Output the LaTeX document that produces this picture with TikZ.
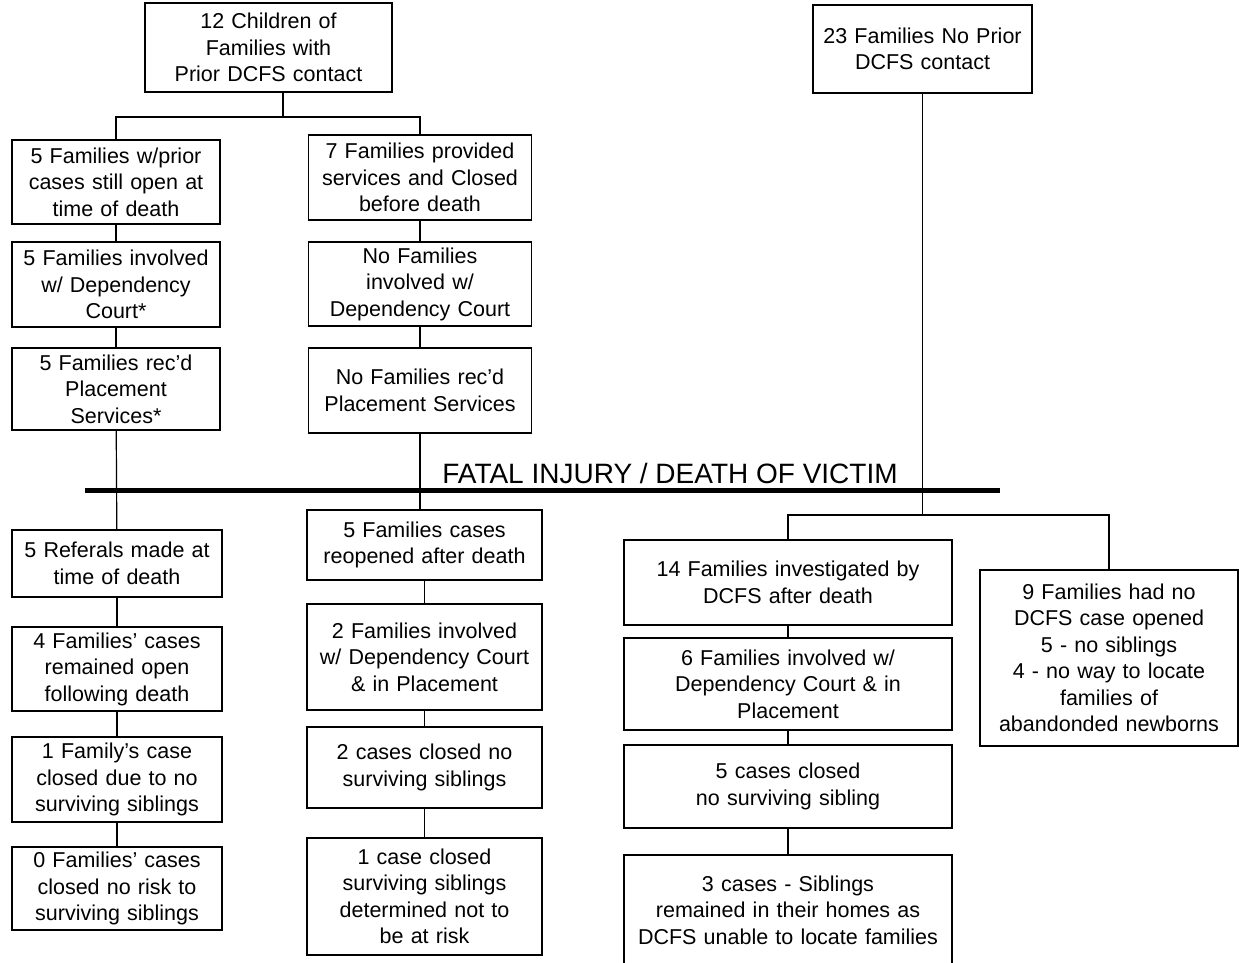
\documentclass[tikz,border=0pt]{standalone}
\usepackage{fontspec}
\setmainfont{Liberation Sans}
\begin{document}
\begin{tikzpicture}[x=1pt, y=-1pt,
	box/.style={draw, line width=1.1pt, align=center, inner sep=2pt, font=\fontsize{21.5}{26.5}\selectfont},
	link/.style={line width=1.2pt}]
	\useasboundingbox (0,0) rectangle (1239,962);

	% before death
	\node [box, text width=238pt, minimum width=247, minimum height=89] at (268.5, 47.5) (kids) {12 Children of\\Families with\\Prior DCFS contact};
	\node [box, text width=210pt, minimum width=219, minimum height=88] at (922.5, 49) (noprior) {23 Families No Prior\\DCFS contact};

	\node [box, text width=200pt, minimum width=208, minimum height=84] at (116, 182) (open1) {5 Families w/prior\\cases still open at\\time of death};
	\node [box, text width=200pt, minimum width=208, minimum height=85] at (116, 284.5) (open2) {5 Families involved\\w/ Dependency\\Court*};
	\node [box, text width=200pt, minimum width=208, minimum height=82] at (116, 389) (open3) {5 Families rec'd\\Placement\\Services*};

	\node [box, text width=215pt, minimum width=223, minimum height=85] at (420, 177.5) (closed1) {7 Families provided\\services and Closed\\before death};
	\node [box, text width=215pt, minimum width=223, minimum height=84] at (420, 284) (closed2) {No Families\\involved w/\\Dependency Court};
	\node [box, text width=215pt, minimum width=223, minimum height=85] at (420, 390.5) (closed3) {No Families rec'd\\Placement Services};

	% death line
	\coordinate (fatalL) at (85, 490);
	\coordinate (fatalR) at (1000, 490);
	\draw [line width=5pt] (fatalL) -- (fatalR);
	\node [anchor=base, inner sep=0pt, font=\fontsize{28}{32}\selectfont] at (670, 483) (fatal) {FATAL INJURY / DEATH OF VICTIM};

	% after death
	\node [box, text width=202pt, minimum width=210, minimum height=67] at (117, 563.5) (ref1) {5 Referals made at\\time of death};
	\node [box, text width=202pt, minimum width=210, minimum height=84] at (117, 669) (ref2) {4 Families' cases\\remained open\\following death};
	\node [box, text width=202pt, minimum width=210, minimum height=85] at (117, 779.5) (ref3) {1 Family's case\\closed due to no\\surviving siblings};
	\node [box, text width=202pt, minimum width=210, minimum height=83] at (117, 888.5) (ref4) {0 Families' cases\\closed no risk to\\surviving siblings};

	\node [box, text width=227pt, minimum width=235, minimum height=70] at (424.5, 545) (reop1) {5 Families cases\\reopened after death};
	\node [box, text width=227pt, minimum width=235, minimum height=106] at (424.5, 657) (reop2) {2 Families involved\\w/ Dependency Court\\\& in Placement};
	\node [box, text width=227pt, minimum width=235, minimum height=81] at (424.5, 767.5) (reop3) {2 cases closed no\\surviving siblings};
	\node [box, text width=227pt, minimum width=235, minimum height=117] at (424.5, 896.5) (reop4) {1 case closed\\surviving siblings\\determined not to\\be at risk};

	\node [box, text width=320pt, minimum width=328, minimum height=85] at (788, 582.5) (inv1) {14 Families investigated by\\DCFS after death};
	\node [box, text width=320pt, minimum width=328, minimum height=92] at (788, 684) (inv2) {6 Families involved w/\\Dependency Court \& in\\Placement};
	\node [box, text width=320pt, minimum width=328, minimum height=83] at (788, 786.5) (inv3) {5 cases closed\\no surviving sibling};
	\node [box, text width=320pt, minimum width=328, minimum height=110] at (788, 910) (inv4) {3 cases - Siblings\\remained in their homes as\\DCFS unable to locate families};

	\node [box, text width=250pt, minimum width=258, minimum height=176] at (1109, 658) (noopen) {9 Families had no\\DCFS case opened\\5 - no siblings\\4 - no way to locate\\families of\\abandonded newborns};

	% connectors
	\coordinate (splitTop) at (283, 117);
	\coordinate (splitLow) at (922.5, 515);
	\draw [link] (kids.south -| splitTop) -- (splitTop);
	\draw [link] (open1.north) |- (splitTop) -| (closed1.north);
	\draw [link] (open1) -- (open2);
	\draw [link] (open2) -- (open3);
	\draw [link] (open3) -- (ref1);
	\draw [link] (ref1) -- (ref2);
	\draw [link] (ref2) -- (ref3);
	\draw [link] (ref3) -- (ref4);
	\draw [link] (closed1) -- (closed2);
	\draw [link] (closed2) -- (closed3);
	\draw [link] (closed3.south) -- (closed3.south |- reop1.north);
	\draw [link] (reop1) -- (reop2);
	\draw [link] (reop2) -- (reop3);
	\draw [link] (reop3) -- (reop4);
	\draw [link] (noprior) -- (splitLow);
	\draw [link] (inv1.north) |- (splitLow) -| (noopen.north);
	\draw [link] (inv1) -- (inv2);
	\draw [link] (inv2) -- (inv3);
	\draw [link] (inv3) -- (inv4);
\end{tikzpicture}
\end{document}
